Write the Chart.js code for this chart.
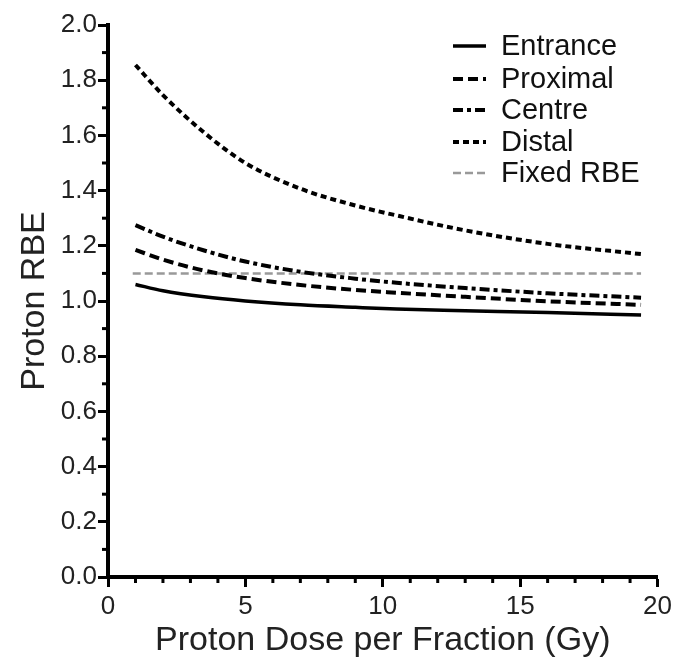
<!DOCTYPE html>
<html>
<head>
<meta charset="utf-8">
<title>Proton RBE</title>
<script src="https://cdn.jsdelivr.net/npm/chart.js@4.4.1/dist/chart.umd.min.js"></script>
<style>
  body { margin: 0; background: #fff; }
  #wrap { width: 676px; height: 662px; }
</style>
</head>
<body>
<div id="wrap"><canvas id="chart" width="676" height="662"></canvas></div>
<script>
// values
const doseX = [1, 2, 3.5, 5, 7, 9, 10.5, 13, 16, 19.4];
const entrance = [1.06, 1.037, 1.015, 1.0, 0.986, 0.977, 0.971, 0.965, 0.958, 0.949];
const proximal = [1.185, 1.15, 1.11, 1.083, 1.058, 1.04, 1.03, 1.015, 0.999, 0.986];
const centre = [1.275, 1.233, 1.183, 1.143, 1.106, 1.081, 1.066, 1.047, 1.028, 1.012];
const distal = [1.855, 1.746, 1.61, 1.50, 1.407, 1.346, 1.31, 1.256, 1.207, 1.17];
const fixedX = [0.9, 19.4];
const fixedRBE = [1.1, 1.1];

const FONT = '"Liberation Sans", Arial, sans-serif';
const legendRows = [46, 79, 110, 142, 173];

function pts(xs, ys) {
    return xs.map(function(x, i) { return { x: x, y: ys[i] }; });
}

// minor ticks (0.1 on y, 1 on x)
const minorTicks = {
    id: 'minorTicks',
    afterDraw: function(chart) {
        const c = chart.ctx;
        const xs = chart.scales.x, ys = chart.scales.y;
        c.save();
        c.strokeStyle = '#000';
        c.lineWidth = 3;
        for (let i = 1; i < 20; i += 2) {
            const py = ys.getPixelForValue(i / 10);
            c.beginPath();
            c.moveTo(xs.left, py);
            c.lineTo(xs.left - 6, py);
            c.stroke();
        }
        for (let i = 1; i < 20; i++) {
            if (i % 5 === 0) continue;
            const px = xs.getPixelForValue(i);
            c.beginPath();
            c.moveTo(px, ys.bottom);
            c.lineTo(px, ys.bottom + 6);
            c.stroke();
        }
        c.restore();
    }
};

// legend drawn inside the plot, top right
const innerLegend = {
    id: 'innerLegend',
    afterDraw: function(chart) {
        const c = chart.ctx;
        c.save();
        c.font = '29px ' + FONT;
        c.textBaseline = 'middle';
        c.textAlign = 'left';
        chart.data.datasets.forEach(function(ds, i) {
            const y = legendRows[i];
            c.strokeStyle = ds.borderColor;
            c.lineWidth = ds.borderWidth;
            c.setLineDash(ds.borderDash || []);
            c.beginPath();
            c.moveTo(453, y);
            c.lineTo(486, y);
            c.stroke();
            c.setLineDash([]);
            c.fillStyle = '#111';
            c.fillText(ds.label, 501, y + 1);
        });
        c.restore();
    }
};

const ctx = document.getElementById('chart').getContext('2d');
new Chart(ctx, {
    type: 'line',
    data: {
        datasets: [
            { label: 'Entrance', data: pts(doseX, entrance), borderColor: '#000', borderWidth: 3.5 },
            { label: 'Proximal', data: pts(doseX, proximal), borderColor: '#000', borderWidth: 4, borderDash: [10, 5] },
            { label: 'Centre', data: pts(doseX, centre), borderColor: '#000', borderWidth: 4, borderDash: [10, 4, 4, 4] },
            { label: 'Distal', data: pts(doseX, distal), borderColor: '#000', borderWidth: 4, borderDash: [6, 4] },
            { label: 'Fixed RBE', data: pts(fixedX, fixedRBE), borderColor: '#999', borderWidth: 2.5, borderDash: [8, 4] }
        ]
    },
    options: {
        responsive: false,
        animation: false,
        cubicInterpolationMode: 'monotone',
        elements: { point: { radius: 0 } },
        layout: { padding: { top: 25, right: 16, left: 0, bottom: 0 } },
        plugins: {
            legend: { display: false },
            tooltip: { enabled: false }
        },
        scales: {
            x: {
                type: 'linear',
                min: 0,
                max: 20,
                afterFit: function(s) { s.height = 85; },
                border: { color: '#000', width: 4 },
                grid: { drawOnChartArea: false, tickLength: 10, tickWidth: 3, tickColor: '#000' },
                ticks: { stepSize: 5, padding: 4, color: '#222', font: { family: FONT, size: 26 } },
                title: {
                    display: true,
                    text: 'Proton Dose per Fraction (Gy)',
                    color: '#222',
                    font: { family: FONT, size: 34, lineHeight: 1 },
                    padding: { top: 0, bottom: 4 }
                }
            },
            y: {
                min: 0,
                max: 2,
                afterFit: function(s) { s.width = 108; },
                border: { color: '#000', width: 4 },
                grid: { drawOnChartArea: false, tickLength: 10, tickWidth: 3, tickColor: '#000' },
                ticks: {
                    stepSize: 0.2,
                    padding: 1,
                    color: '#222',
                    font: { family: FONT, size: 26 },
                    callback: function(v) { return v.toFixed(1); }
                },
                title: {
                    display: true,
                    text: 'Proton RBE',
                    color: '#222',
                    font: { family: FONT, size: 34, lineHeight: 1 },
                    padding: { top: 18, bottom: 0 }
                }
            }
        }
    },
    plugins: [minorTicks, innerLegend]
});
</script>
</body>
</html>
